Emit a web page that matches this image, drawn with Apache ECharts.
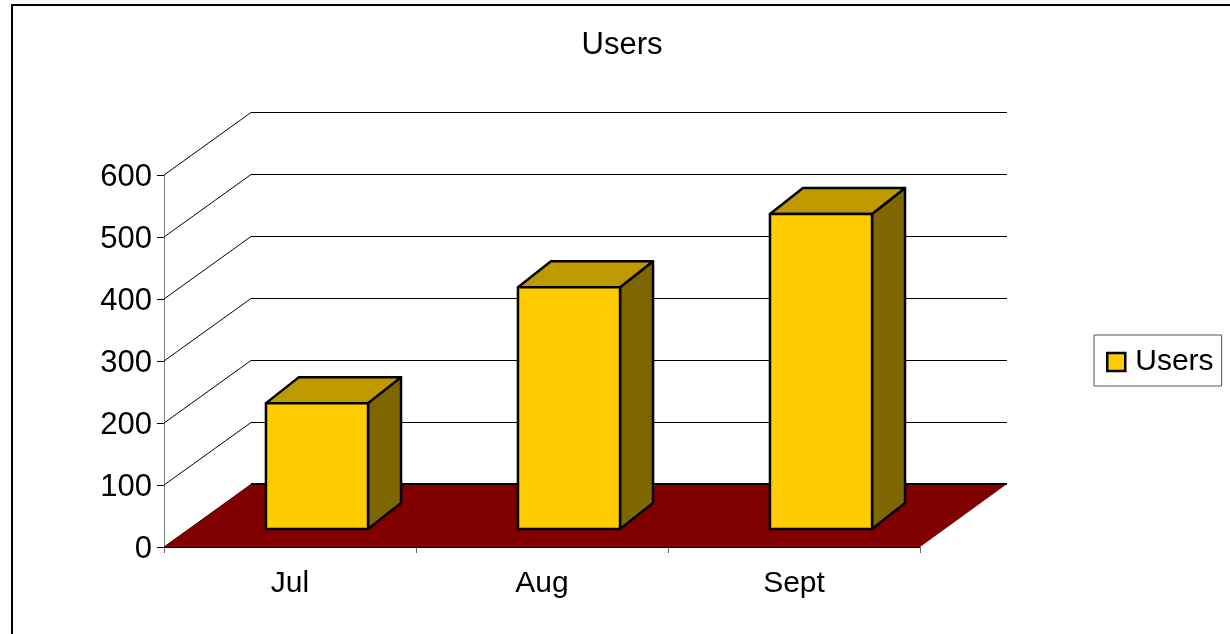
<!DOCTYPE html>
<html>
<head>
<meta charset="utf-8">
<title>Users</title>
<script src="https://cdn.jsdelivr.net/npm/echarts@6/dist/echarts.min.js"></script>
<style>
html, body { margin: 0; padding: 0; background: #fff; }
#chart { width: 1230px; height: 634px; }
</style>
</head>
<body>
<div id="chart"></div>
<script>
const months = ['Jul', 'Aug', 'Sept'];
const users = [203, 390, 508];
const yTicks = [0, 100, 200, 300, 400, 500, 600];

const FONT = '"Liberation Sans", Arial, sans-serif';
// fake 3d: how far the back wall sits from the front plane, in px
const WALL_DX = 87;
const WALL_DY = -63;
// bars stand a bit into the floor, and have their own depth
const BAR_DX = 27;
const BAR_DY = -18;
const BAR_DEPTH_X = 33;
const BAR_DEPTH_Y = -26;

function renderGridLine(params, api) {
  const cs = params.coordSys;
  const y = api.coord([0, api.value(1)])[1];
  return {
    type: 'polyline',
    shape: {
      points: [
        [cs.x, y],
        [cs.x + WALL_DX, y + WALL_DY + 0.5],
        [cs.x + cs.width + WALL_DX, y + WALL_DY + 0.5]
      ]
    },
    style: { fill: null, stroke: '#000', lineWidth: 1 }
  };
}

function renderFloor(params, api) {
  const cs = params.coordSys;
  const y = api.coord([0, 0])[1];
  const left = cs.x;
  const right = cs.x + cs.width;
  return {
    type: 'group',
    children: [
      {
        type: 'polygon',
        shape: {
          points: [
            [left, y],
            [right, y],
            [right + WALL_DX, y + WALL_DY],
            [left + WALL_DX, y + WALL_DY]
          ]
        },
        style: { fill: '#800000' }
      },
      {
        type: 'line',
        shape: { x1: left + WALL_DX, y1: y + WALL_DY, x2: right + WALL_DX, y2: y + WALL_DY },
        style: { stroke: '#000', lineWidth: 2 }
      },
      {
        type: 'line',
        shape: { x1: left, y1: y + 0.5, x2: right, y2: y + 0.5 },
        style: { stroke: '#000', lineWidth: 1 }
      }
    ]
  };
}

function renderBar(params, api) {
  const base = api.coord([api.value(0), 0]);
  const top = api.coord([api.value(0), api.value(1)]);
  const w = api.size([1, 0])[0] * 0.405;
  const x0 = base[0] + BAR_DX - w / 2;
  const x1 = x0 + w;
  const yb = base[1] + BAR_DY;
  const yt = top[1] + BAR_DY;
  const edge = { stroke: '#000', lineWidth: 2.5, lineJoin: 'round' };
  return {
    type: 'group',
    children: [
      {
        type: 'polygon',
        shape: { points: [[x1, yb], [x1 + BAR_DEPTH_X, yb + BAR_DEPTH_Y], [x1 + BAR_DEPTH_X, yt + BAR_DEPTH_Y], [x1, yt]] },
        style: Object.assign({ fill: '#806600' }, edge)
      },
      {
        type: 'polygon',
        shape: { points: [[x0, yt], [x1, yt], [x1 + BAR_DEPTH_X, yt + BAR_DEPTH_Y], [x0 + BAR_DEPTH_X, yt + BAR_DEPTH_Y]] },
        style: Object.assign({ fill: '#BF9900' }, edge)
      },
      {
        type: 'rect',
        shape: { x: x0, y: yt, width: w, height: yb - yt },
        style: Object.assign({ fill: '#FFCC00' }, edge)
      }
    ]
  };
}

const chart = echarts.init(document.getElementById('chart'), null, { renderer: 'canvas' });
chart.setOption({
  animation: false,
  backgroundColor: '#fff',
  textStyle: { fontFamily: FONT },
  title: {
    text: 'Users',
    left: 617,
    top: 25,
    textAlign: 'center',
    textStyle: { fontFamily: FONT, fontSize: 31, fontWeight: 'normal', color: '#000' }
  },
  legend: {
    data: [{
      name: 'Users',
      icon: 'rect',
      itemStyle: { color: '#FFCC00', borderColor: '#000', borderWidth: 2.5 }
    }],
    orient: 'vertical',
    left: 1094,
    top: 335,
    padding: [12, 8, 9, 12],
    itemWidth: 18,
    itemHeight: 18,
    borderColor: '#555',
    borderWidth: 1,
    textStyle: { fontFamily: FONT, fontSize: 30, color: '#000', padding: [0, 0, 0, 5] }
  },
  grid: { left: 164, top: 175, width: 756, height: 372 },
  xAxis: {
    type: 'category',
    data: months,
    axisLine: { lineStyle: { color: '#000', width: 1 } },
    axisTick: { show: true, length: 6, lineStyle: { color: '#666' } },
    axisLabel: { color: '#000', fontFamily: FONT, fontSize: 30, margin: 22 },
    splitLine: { show: false }
  },
  yAxis: {
    type: 'value',
    min: 0,
    max: 600,
    interval: 100,
    axisLine: { show: true, lineStyle: { color: '#808080', width: 1 } },
    axisTick: { show: true, length: 7, lineStyle: { color: '#000' } },
    axisLabel: {
      margin: 12,
      formatter: '{n|{value}}',
      // top padding nudges the digits down, they sit 2px under the tick in the original
      rich: { n: { color: '#000', fontFamily: FONT, fontSize: 31, padding: [5, 0, 0, 0] } }
    },
    splitLine: { show: false }
  },
  graphic: [{
    // chart area frame, only top and left are inside the picture
    type: 'polyline',
    shape: { points: [[12, 634], [12, 5], [1230, 5]] },
    style: { fill: null, stroke: '#000', lineWidth: 2 },
    silent: true
  }],
  series: [
    {
      type: 'custom',
      name: 'wall',
      renderItem: renderGridLine,
      data: yTicks.map(function (v) { return [0, v]; }),
      z: 1
    },
    {
      type: 'custom',
      name: 'floor',
      renderItem: renderFloor,
      data: [[0, 0]],
      z: 2
    },
    {
      type: 'custom',
      name: 'Users',
      renderItem: renderBar,
      data: users.map(function (v, i) { return [i, v]; }),
      itemStyle: { color: '#FFCC00' },
      z: 3
    }
  ]
});
</script>
</body>
</html>
